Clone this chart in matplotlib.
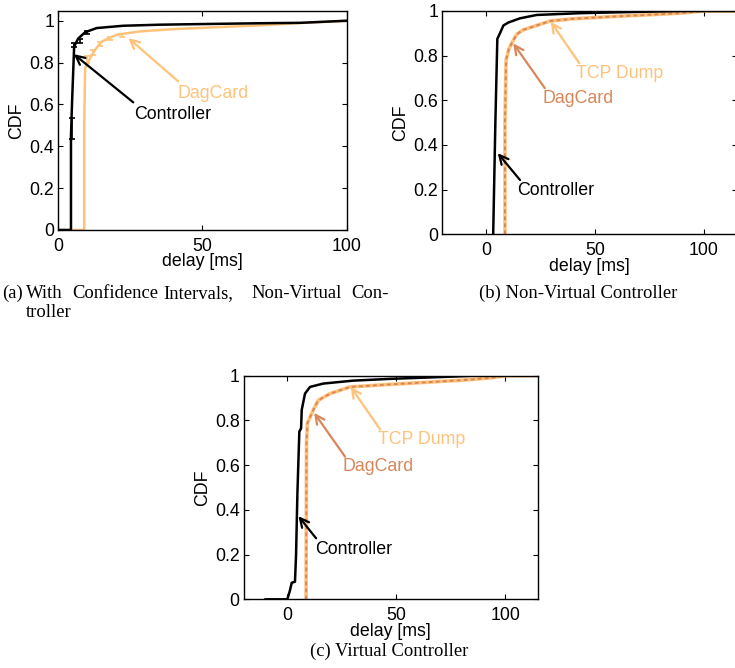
import matplotlib
matplotlib.use("Agg")
import matplotlib.pyplot as plt

plt.rcParams['font.family'] = ['Liberation Sans', 'DejaVu Sans']

LIGHT = '#FFC27A'
DARK = '#D8865A'

# ---- (a) with confidence intervals, non-virtual controller ----
a_ctrl_x = [0, 4.4, 4.4, 4.8, 5.5, 6.9, 9.3, 13.3, 22.5, 35, 49, 70, 84, 100]
a_ctrl_y = [0, 0, 0.45, 0.62, 0.877, 0.915, 0.945, 0.965, 0.976, 0.981, 0.984, 0.988, 0.99, 1.0]
a_dag_x = [0, 9.0, 9.0, 9.3, 11, 12.7, 15, 20.2, 28.3, 40, 50, 70, 84, 100]
a_dag_y = [0, 0, 0.5, 0.773, 0.82, 0.86, 0.9, 0.933, 0.949, 0.96, 0.966, 0.978, 0.989, 1.0]
# confidence intervals (centre, half-width)
a_ctrl_ci_x = [4.6, 5.5, 7.5, 10.0]
a_ctrl_ci_y = [0.485, 0.885, 0.905, 0.945]
a_ctrl_ci_e = [0.05, 0.01, 0.01, 0.008]
a_dag_ci_x = [10.0, 12.0, 14.5, 18.0, 22.0]
a_dag_ci_y = [0.815, 0.85, 0.89, 0.915, 0.93]
a_dag_ci_e = [0.015, 0.012, 0.01, 0.008, 0.006]

# ---- (b) non-virtual controller ----
b_ctrl_x = [3.3, 4.3, 5.2, 6.4, 8.0, 10.2, 15.6, 23.2, 43, 70, 90, 115]
b_ctrl_y = [0, 0.5, 0.875, 0.9, 0.935, 0.948, 0.967, 0.982, 0.99, 0.996, 1.0, 1.0]
b_tcp_x = [8.7, 8.7, 9.2, 10.5, 11.8, 14, 17, 21.7, 29.4, 40, 58.4, 75, 89, 100, 115]
b_tcp_y = [0, 0.5, 0.78, 0.83, 0.855, 0.895, 0.915, 0.93, 0.955, 0.965, 0.975, 0.983, 0.99, 1.0, 1.0]
b_dag_x = b_tcp_x
b_dag_y = b_tcp_y

# ---- (c) virtual controller ----
c_ctrl_x = [-10, 0, 1.2, 2.0, 3.5, 4.0, 4.6, 5.5, 6.3, 6.6, 8.1, 10.4, 16.5, 30, 47, 70, 85, 115]
c_ctrl_y = [0, 0, 0.04, 0.074, 0.079, 0.2, 0.47, 0.75, 0.765, 0.847, 0.92, 0.95, 0.965, 0.978, 0.986, 0.994, 1.0, 1.0]
c_tcp_x = [8.6, 8.8, 9.2, 11.9, 14.2, 19.6, 28.8, 45, 62.5, 80, 93, 100, 115]
c_tcp_y = [0, 0.7, 0.787, 0.847, 0.89, 0.92, 0.95, 0.96, 0.97, 0.98, 0.99, 1.0, 1.0]
c_dag_x = c_tcp_x
c_dag_y = c_tcp_y

y_ticks = [0, 0.2, 0.4, 0.6, 0.8, 1.0]
y_tick_labels = ['0', '0.2', '0.4', '0.6', '0.8', '1']
x_ticks = [0, 50, 100]
x_tick_labels = ['0', '50', '100']

FS = 12.8
fig = plt.figure(figsize=(7.35, 6.68), dpi=100)


def style(ax, xlim, ylim):
    ax.set_xlim(*xlim)
    ax.set_ylim(*ylim)
    ax.set_xticks(x_ticks)
    ax.set_xticklabels(x_tick_labels)
    ax.set_yticks(y_ticks)
    ax.set_yticklabels(y_tick_labels)
    ax.tick_params(direction='in', length=3.5, width=0.8, top=True, right=True,
                   labelsize=FS)
    ax.tick_params(axis='x', pad=5.5)
    ax.tick_params(axis='y', pad=3)
    for s in ax.spines.values():
        s.set_linewidth(1.0)
    ax.set_xlabel('delay [ms]', fontsize=FS, labelpad=-1)
    ax.set_ylabel('CDF', fontsize=FS, labelpad=3)


def arrow(ax, xy, xytext, color):
    ax.annotate('', xy=xy, xytext=xytext,
                arrowprops=dict(arrowstyle='->', color=color, lw=1.6,
                                shrinkA=0, shrinkB=0, mutation_scale=16))


# panel (a)
ax = fig.add_axes([0.0793, 0.6557, 0.3924, 0.3283])
ax.plot(a_dag_x, a_dag_y, color=LIGHT, lw=1.8)
ax.plot(a_ctrl_x, a_ctrl_y, color='black', lw=1.8)
ax.errorbar(a_dag_ci_x, a_dag_ci_y, yerr=a_dag_ci_e, fmt='none', ecolor=LIGHT,
            elinewidth=1.2, capsize=2.5, capthick=1.2)
ax.errorbar(a_ctrl_ci_x, a_ctrl_ci_y, yerr=a_ctrl_ci_e, fmt='none', ecolor='black',
            elinewidth=1.2, capsize=2.5, capthick=1.2)
style(ax, (0, 100), (0, 1.048))
arrow(ax, (5.4, 0.84), (26, 0.61), 'black')
ax.text(39.7, 0.55, 'Controller', color='black', fontsize=FS, ha='center', va='center')
arrow(ax, (24.3, 0.917), (41.6, 0.71), LIGHT)
ax.text(53.7, 0.654, 'DagCard', color=LIGHT, fontsize=FS, ha='center', va='center')

# panel (b)
ax = fig.add_axes([0.6019, 0.6493, 0.4004, 0.3343])
ax.plot(b_tcp_x, b_tcp_y, color=LIGHT, lw=2.6)
ax.plot(b_dag_x, b_dag_y, color=DARK, lw=1.4, linestyle=(0, (2.0, 1.6)))
ax.plot(b_ctrl_x, b_ctrl_y, color='black', lw=1.8)
style(ax, (-20, 115), (0, 1))
arrow(ax, (29.7, 0.952), (42.8, 0.766), LIGHT)
ax.text(61.5, 0.718, 'TCP Dump', color=LIGHT, fontsize=FS, ha='center', va='center')
arrow(ax, (12.5, 0.855), (27, 0.654), DARK)
ax.text(42.4, 0.606, 'DagCard', color=DARK, fontsize=FS, ha='center', va='center')
arrow(ax, (5.4, 0.363), (15.6, 0.243), 'black')
ax.text(32.1, 0.195, 'Controller', color='black', fontsize=FS, ha='center', va='center')

# panel (c)
ax = fig.add_axes([0.3317, 0.1028, 0.4, 0.3347])
ax.plot(c_tcp_x, c_tcp_y, color=LIGHT, lw=2.6)
ax.plot(c_dag_x, c_dag_y, color=DARK, lw=1.4, linestyle=(0, (2.0, 1.6)))
ax.plot(c_ctrl_x, c_ctrl_y, color='black', lw=1.8)
style(ax, (-20, 115), (0, 1))
arrow(ax, (29.1, 0.95), (42.6, 0.76), LIGHT)
ax.text(61.7, 0.716, 'TCP Dump', color=LIGHT, fontsize=FS, ha='center', va='center')
arrow(ax, (12.3, 0.834), (26.5, 0.638), DARK)
ax.text(41.8, 0.593, 'DagCard', color=DARK, fontsize=FS, ha='center', va='center')
arrow(ax, (5.1, 0.372), (13.2, 0.273), 'black')
ax.text(30.6, 0.224, 'Controller', color='black', fontsize=FS, ha='center', va='center')

# captions (justified first line for panel a)
CAP = dict(family=['Liberation Serif', 'DejaVu Serif'], fontsize=13.4, va='baseline')
W, H = 735.0, 668.0
cap_a_words = ['(a)', 'With', 'Confidence', 'Intervals,', 'Non-Virtual', 'Con-']
cap_a_x = [1.7, 26, 72.7, 163.3, 251.7, 351]
for word, px in zip(cap_a_words, cap_a_x):
    fig.text(px / W, 1 - 298 / H, word, ha='left', **CAP)
fig.text(26 / W, 1 - 317 / H, 'troller', ha='left', **CAP)
fig.text(578 / W, 1 - 298 / H, '(b) Non-Virtual Controller', ha='center', **CAP)
fig.text(389 / W, 1 - 656 / H, '(c) Virtual Controller', ha='center', **CAP)

fig.savefig('out.png', dpi=100)
